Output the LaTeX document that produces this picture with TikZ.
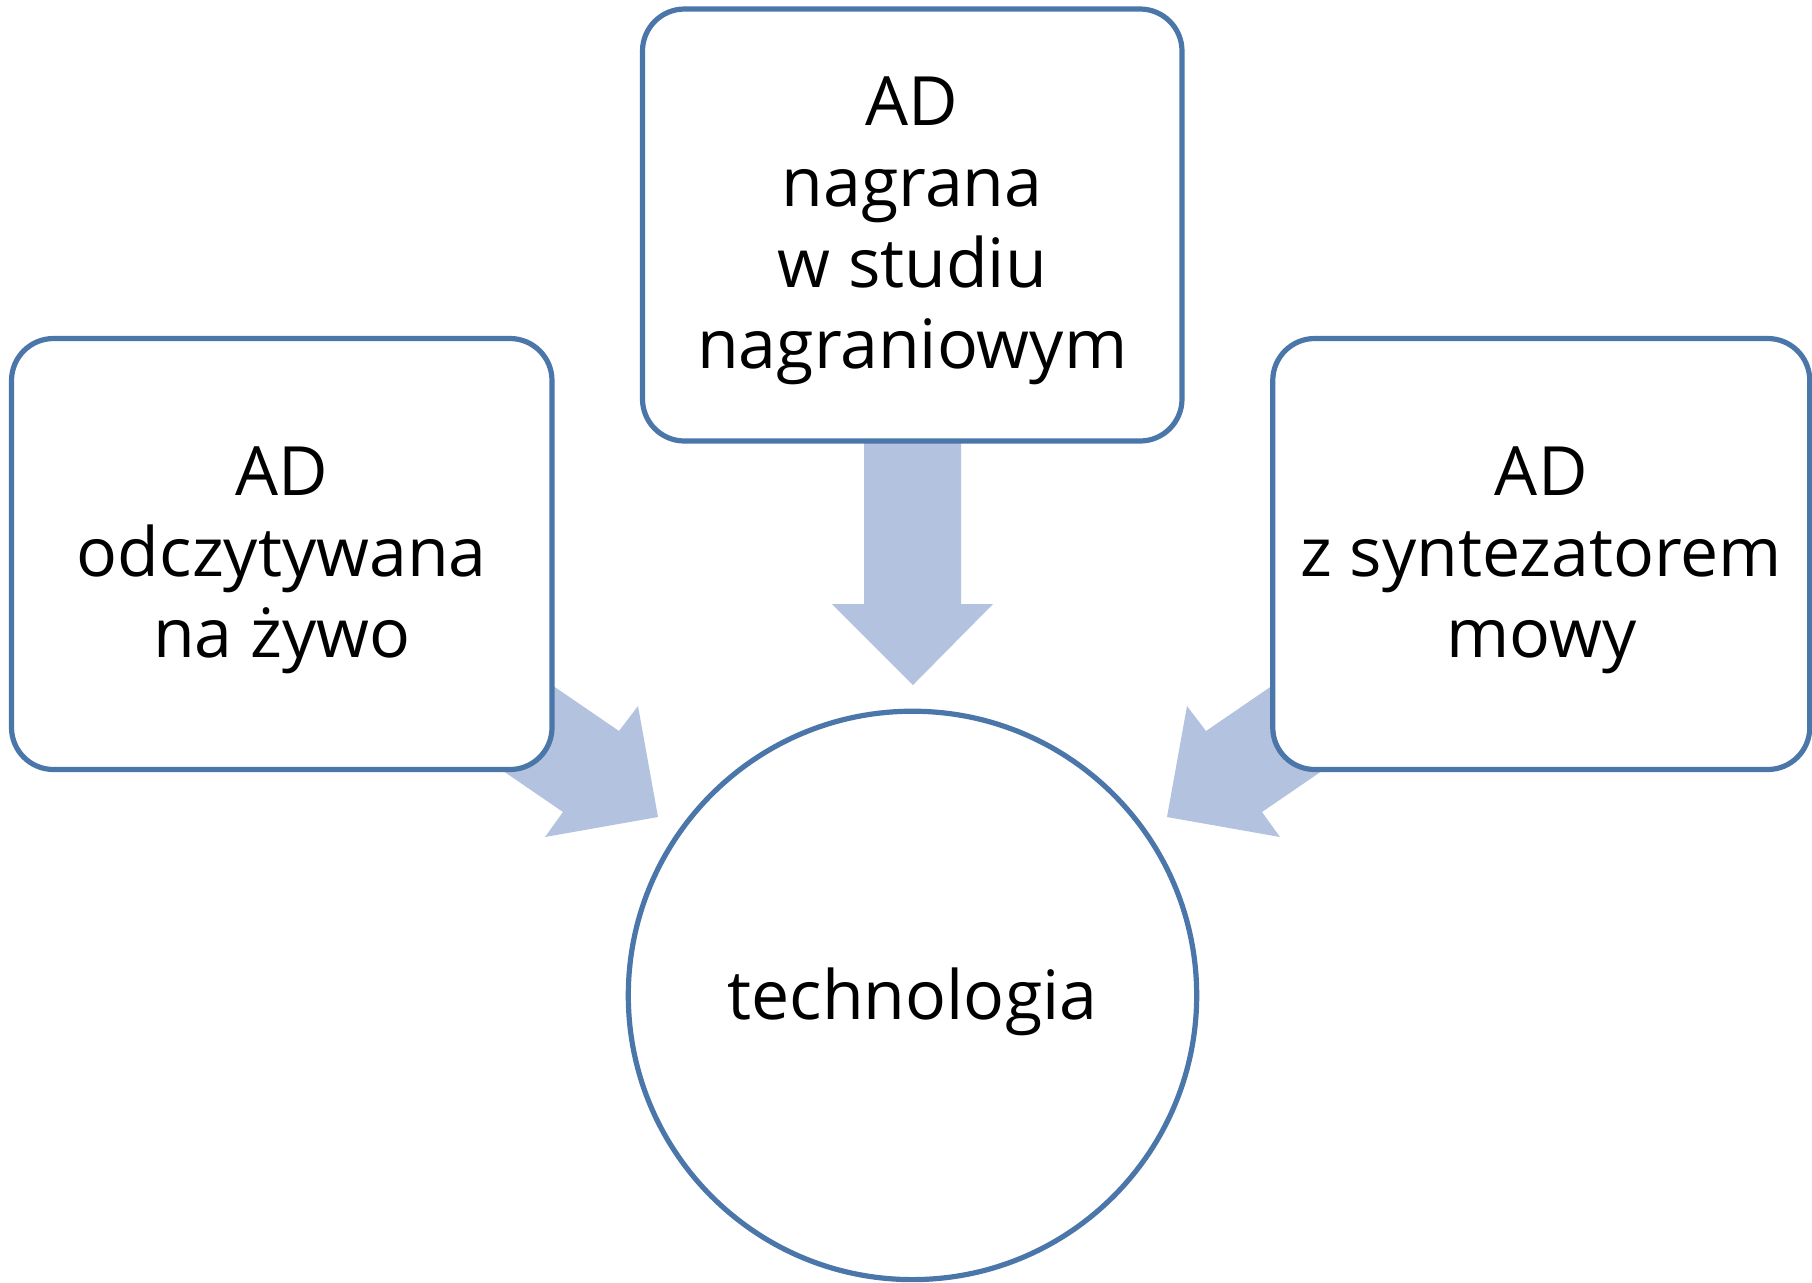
\documentclass[tikz,border=0pt]{standalone}
\usepackage{fontspec}
\setmainfont{Open Sans}
\definecolor{bord}{RGB}{74,118,170}
\definecolor{arr}{RGB}{179,194,222}
\begin{document}
\begin{tikzpicture}[x=0.5pt,y=-0.5pt,
  box/.style={draw=bord, line width=2.6pt, fill=white, rounded corners=21pt, inner sep=0pt},
  circ/.style={draw=bord, line width=2.6pt, fill=white, circle, inner sep=0pt},
  txt/.style={align=center, font=\fontsize{34}{40.5}\selectfont, inner sep=0pt, yshift=-3pt},
  blockarrow/.style={fill=arr, draw=none}
]
\useasboundingbox (0,0) rectangle (1812,1282);
% block arrows (behind the boxes)
\fill[blockarrow] (864,300) -- (864,604) -- (832,604) -- (913,685) -- (993,604) -- (961,604) -- (961,300) -- cycle;
\fill[blockarrow] (454,618) -- (619,731) -- (638,706) -- (658,817) -- (545,837) -- (563,812) -- (398,699) -- cycle;
\fill[blockarrow] (1371,618) -- (1206,731) -- (1187,706) -- (1167,817) -- (1280,837) -- (1262,812) -- (1427,699) -- cycle;
% boxes
\node[box, minimum width=269.75pt, minimum height=216pt] (top) at (912.25,225) {};
\node[box, minimum width=270.25pt, minimum height=215.5pt] (left) at (281.75,554) {};
\node[box, minimum width=268.5pt, minimum height=215.5pt] (right) at (1541.25,554) {};
\node[circ, minimum size=284.2pt] (tech) at (912.5,995.4) {};
% texts
\node[txt] (topt) at (top.center) {AD\\nagrana\\w studiu\\nagraniowym};
\node[txt] (leftt) at (left.center) {AD\\odczytywana\\na żywo};
\node[txt] (rightt) at (right.center) {AD\\z syntezatorem\\mowy};
\node[txt] (techt) at (tech.center) {technologia};
\end{tikzpicture}
\end{document}
